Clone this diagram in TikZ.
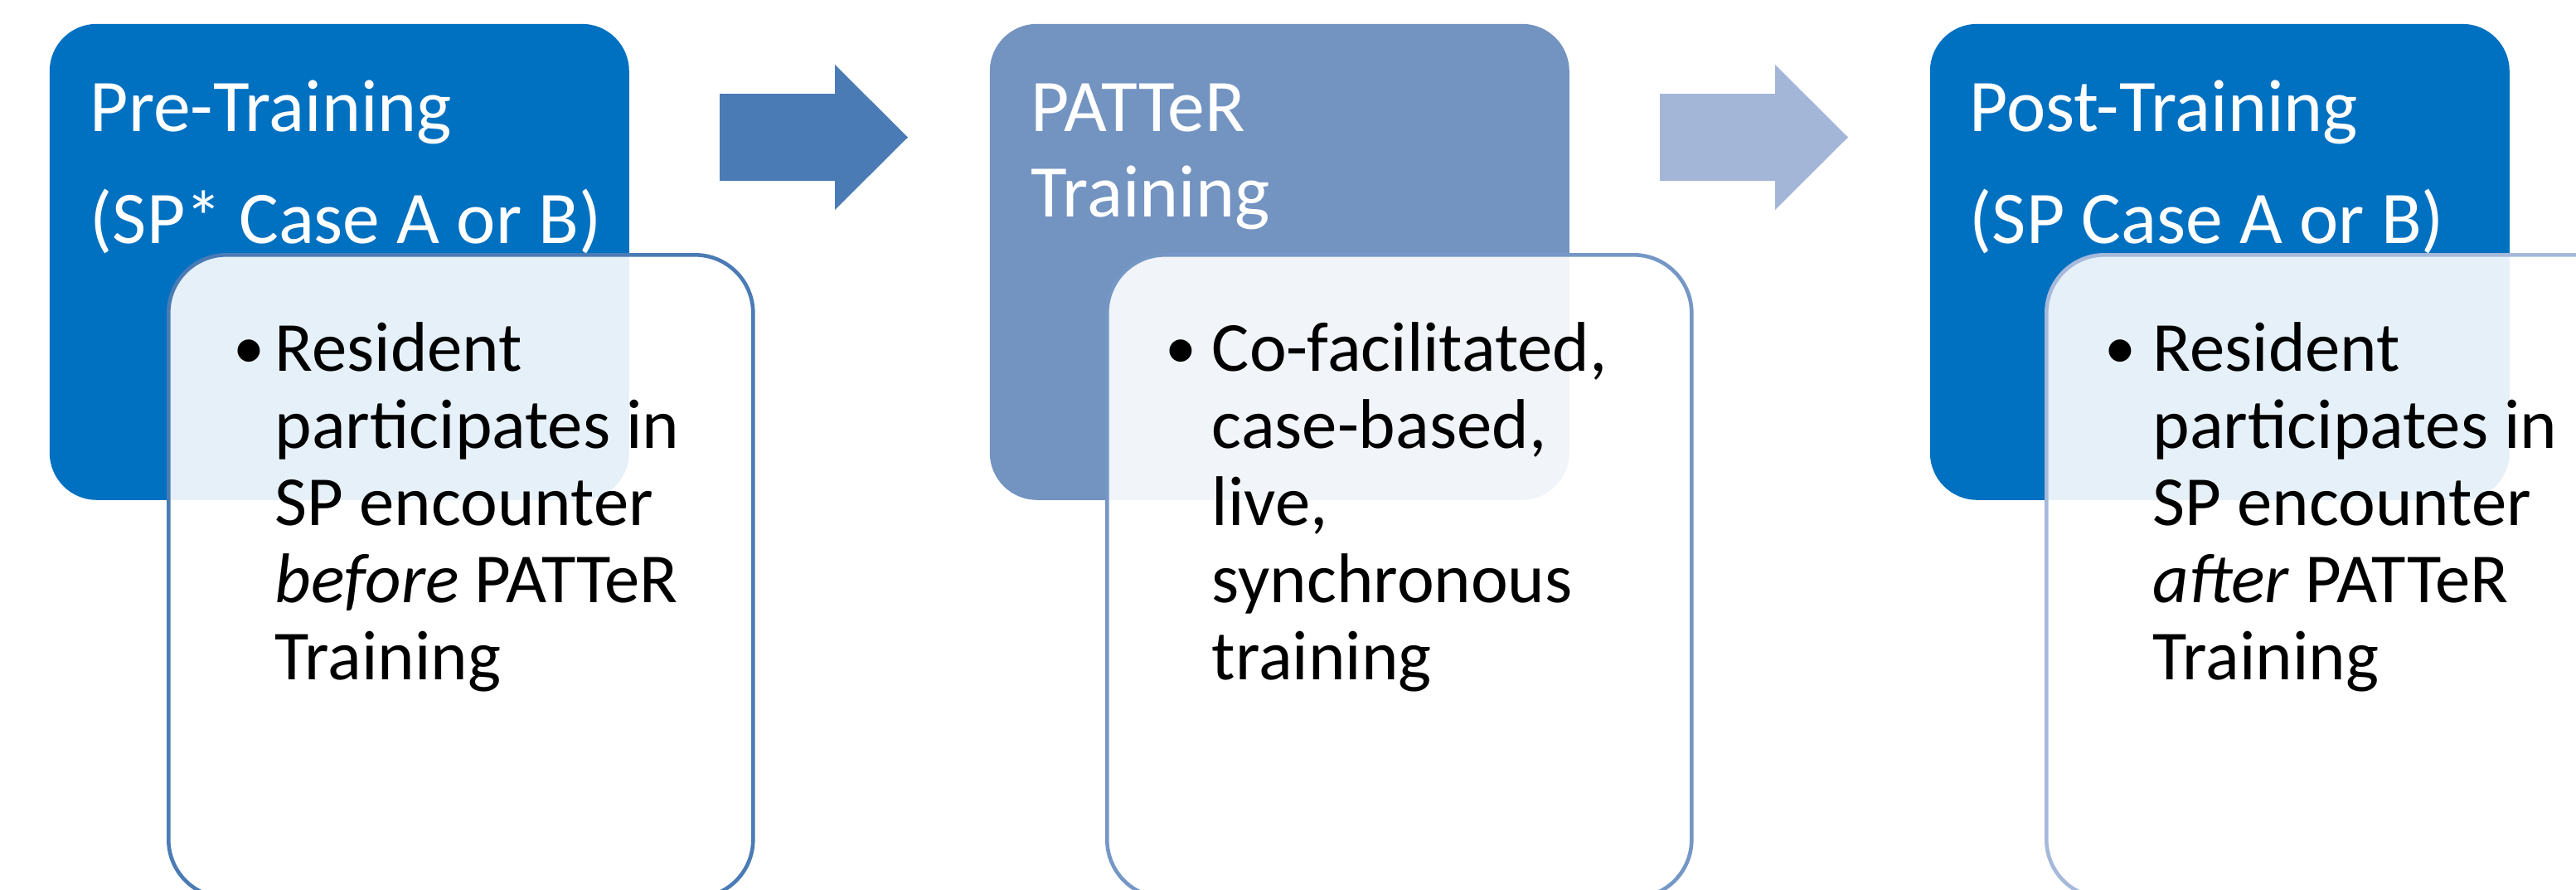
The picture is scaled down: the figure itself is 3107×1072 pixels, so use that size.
\documentclass[tikz,border=0pt]{standalone}
\usepackage{fontspec}
\setmainfont{Carlito}
\definecolor{stagedark}{HTML}{0070C0}
\definecolor{stagemid}{HTML}{7393C1}
\definecolor{arrowdark}{HTML}{4A7BB5}
\definecolor{arrowlight}{HTML}{A4B6D7}
\definecolor{edgemid}{HTML}{7597C6}
\definecolor{edgelight}{HTML}{A6B9DA}
\tikzset{
  stagebox/.style={rounded corners=14.25pt, anchor=north west, inner sep=0pt,
    minimum width=174.75pt, minimum height=143.5pt},
  notebox/.style={rounded corners=17.5pt, anchor=north west, inner sep=0pt,
    line width=1.15pt, fill=white, fill opacity=0.9,
    minimum width=176.25pt, minimum height=193.75pt},
  titletext/.style={anchor=base west, inner sep=0pt, text=white,
    font={\fontsize{22.4pt}{25.75pt}\selectfont}},
  bodytext/.style={anchor=base west, inner sep=0pt, text=black,
    font={\fontsize{21.2pt}{23.25pt}\selectfont}},
  bulletmark/.style={anchor=base west, inner sep=0pt, text=black,
    font={\fontsize{19pt}{23.25pt}\selectfont}}
}
\newcommand{\notelines}[1]{\parbox[t]{190pt}{\raggedright #1}}
\begin{document}
\begin{tikzpicture}[x=0.25pt,y=-0.25pt]
\useasboundingbox (0,0) rectangle (3107,1072);
\clip (0,0) rectangle (3107,1072);

% stage boxes
\node[stagebox, fill=stagedark] (pre)  at (59,28)   {};
\node[stagebox, fill=stagemid]  (mid)  at (1193,28) {};
\node[stagebox, fill=stagedark] (post) at (2327,28) {};

% block arrows between the stages
\fill[arrowdark] (868,113) -- (1007,113) -- (1007,78) -- (1095,165.5)
  -- (1007,253) -- (1007,218) -- (868,218) -- cycle;
\fill[arrowlight] (2002,113) -- (2141,113) -- (2141,78) -- (2229,165.5)
  -- (2141,253) -- (2141,218) -- (2002,218) -- cycle;

% stage titles
\node[titletext] (preA)  at (108,158)  {Pre-Training};
\node[titletext] (preB)  at (108,293)  {(SP* Case A or B)};
\node[titletext] (midA)  at (1243,158) {PATTeR};
\node[titletext] (midB)  at (1243,261) {Training};
\node[titletext] (postA) at (2375,158) {Post-Training};
\node[titletext] (postB) at (2375,293) {(SP Case A or B)};

% detail boxes
\node[notebox, draw=arrowdark] (preN)  at (201,305)  {};
\node[notebox, draw=edgemid]   (midN)  at (1333,305) {};
\node[notebox, draw=edgelight] (postN) at (2466,305) {};

% bullet texts
\node[bulletmark] (preDot) at (281,444) {•};
\node[bodytext] (preTxt) at (331,447) {\notelines{Resident\\participates in\\SP encounter\\\emph{before} PATTeR\\Training}};
\node[bulletmark] (midDot) at (1405,444) {•};
\node[bodytext] (midTxt) at (1461,447) {\notelines{Co-facilitated,\\case-based,\\live,\\synchronous\\training}};
\node[bulletmark] (postDot) at (2538,444) {•};
\node[bodytext] (postTxt) at (2596,447) {\notelines{Resident\\participates in\\SP encounter\\\emph{after} PATTeR\\Training}};
\end{tikzpicture}
\end{document}
